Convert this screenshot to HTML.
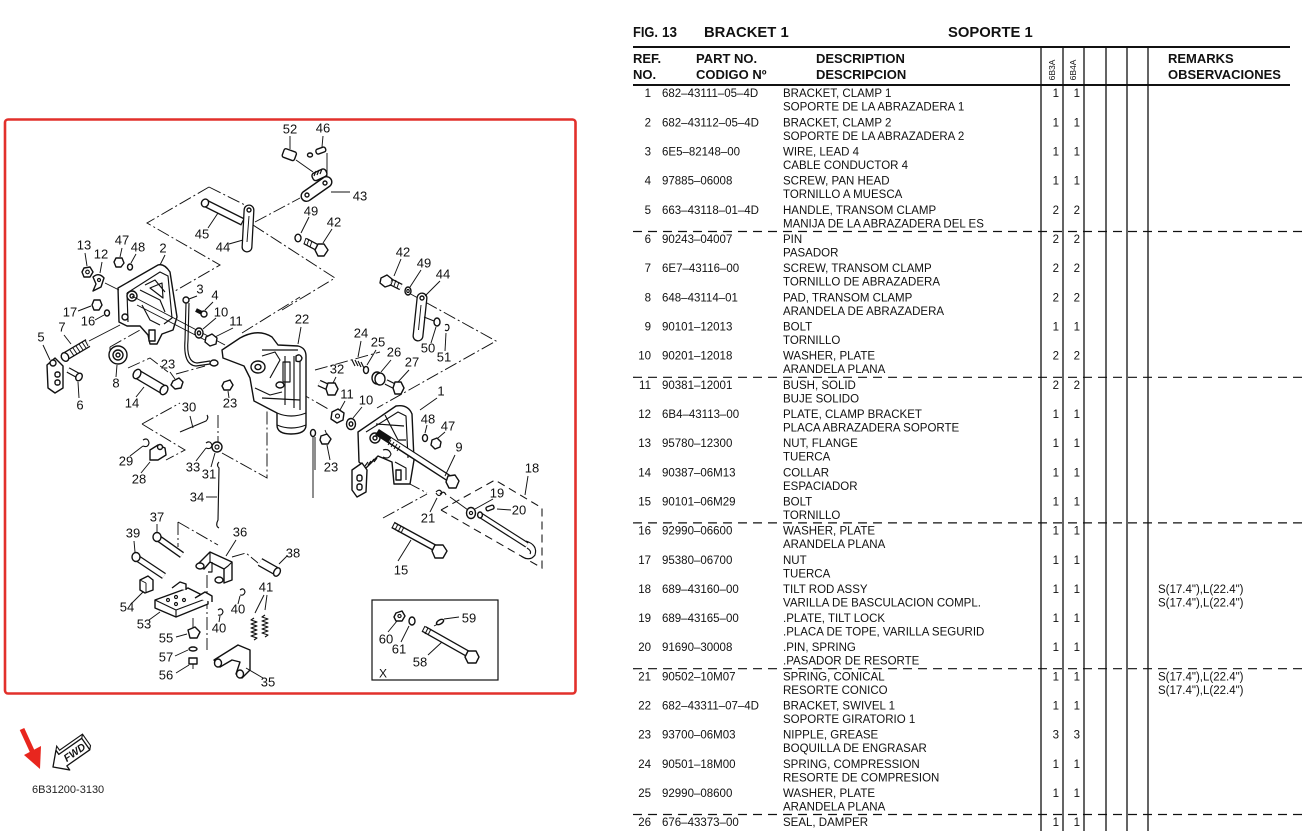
<!DOCTYPE html>
<html><head><meta charset="utf-8">
<style>
html,body{margin:0;padding:0;background:#fff;overflow:hidden;width:1304px;height:831px}
svg{display:block}
.s{fill:#fff;stroke:#111;stroke-width:1.4;stroke-linejoin:round}
.n{fill:none;stroke:#111;stroke-width:1.15;stroke-linejoin:round}
.d{fill:none;stroke:#111;stroke-width:0.95;stroke-dasharray:13 3 2 3}
.dd{fill:none;stroke:#111;stroke-width:1.05;stroke-dasharray:8 5}
.ld{stroke:#111;stroke-width:0.95;fill:none}
.t{font-family:"Liberation Sans",Arial,sans-serif;font-size:13px;fill:#111;text-anchor:middle}
.tb{font-family:"Liberation Sans",Arial,sans-serif;font-size:11.5px;fill:#111;white-space:pre}
.tr{font-family:"Liberation Sans",Arial,sans-serif;font-size:11.5px;fill:#111;text-anchor:end}
.hd{font-family:"Liberation Sans",Arial,sans-serif;font-size:13px;font-weight:bold;fill:#111}
.ti{font-family:"Liberation Sans",Arial,sans-serif;font-size:14.8px;font-weight:bold;fill:#111}
.rot{font-family:"Liberation Sans",Arial,sans-serif;font-size:8.5px;fill:#111;text-anchor:middle}
.k{stroke:#111;fill:none}
.w{stroke:#fff;fill:none}
</style></head>
<body>
<svg width="1304" height="831" viewBox="0 0 1304 831" xmlns="http://www.w3.org/2000/svg">
<rect width="1304" height="831" fill="#fff"/>

<!-- ================= DIAGRAM ================= -->
<rect x="5" y="119.5" width="570.5" height="574" rx="3" fill="none" stroke="#e2302b" stroke-width="2.6"/>

<!-- phantom lines -->
<path class="d" d="M209,187 L147,223 L220,265 L168,295"/>
<path class="d" d="M209,187 L245,205"/>
<path class="d" d="M255,222 L300,198"/>
<path class="d" d="M253,225 L335,278 L282,310"/>
<path class="d" d="M242,333 L300,297"/>
<path class="d" d="M407,292 L496,341 L377,408"/>
<path class="d" d="M315,370 L380,352"/>
<path class="d" d="M110,347 L110,362 M110,347 L140,330"/>
<path class="d" d="M128,368 L150,358 L168,372"/>
<path class="d" d="M383,518 L427,494 M408,483 L427,493"/>
<path class="d" d="M142,424 L180,403 M142,424 L185,450 L166,460"/>
<path class="d" d="M218,415 L218,442 M222,453 L267,478 L267,407"/>
<path class="d" d="M178,522 L218,545 M178,522 L178,547"/>
<path class="d" d="M232,557 L246,553 L258,563"/>
<path class="d" d="M207,575 L207,650"/>
<path class="d" d="M225,350 L330,410"/>
<path class="d" d="M176,374 L205,366"/>

<!-- 52, 46, 43 -->
<rect class="s" x="283" y="150" width="13" height="9" rx="2" transform="rotate(20 289 154)"/>
<line class="ld" x1="290" y1="136" x2="290" y2="149"/>
<ellipse class="s" cx="310" cy="155" rx="2.5" ry="2"/>
<rect class="s" x="316" y="148" width="10" height="5" rx="2" transform="rotate(-20 321 151)"/>
<line class="ld" x1="323" y1="136" x2="322" y2="147"/>
<line class="ld" x1="327" y1="153" x2="327" y2="176"/>
<line class="ld" x1="296" y1="160" x2="313" y2="172"/>
<rect class="s" x="312" y="171" width="15" height="8" rx="3" transform="rotate(-25 319 175)"/>
<path class="n" d="M314,176 l2,-5 M317,175 l2,-5 M320,174 l2,-5"/>
<path class="s" d="M303,192 L323,178 A5,5 0 0 1 330,186 L310,200 A5,5 0 0 1 303,192 Z"/>
<circle class="s" cx="307" cy="195" r="2"/>
<circle class="s" cx="325" cy="183" r="2"/>
<line class="ld" x1="331" y1="192" x2="350" y2="192"/>

<!-- 45 pin -->
<line class="k" x1="205" y1="203" x2="243" y2="222" stroke-width="8"/>
<line class="w" x1="206" y1="203.5" x2="242" y2="221.5" stroke-width="5.4"/>
<ellipse class="s" cx="205" cy="203" rx="3.5" ry="4" transform="rotate(26 205 203)"/>
<line class="ld" x1="208" y1="228" x2="218" y2="213"/>
<!-- 44 left link -->
<line class="k" x1="249" y1="210" x2="247" y2="247" stroke-width="11" stroke-linecap="round"/>
<line class="w" x1="249" y1="210" x2="247" y2="247" stroke-width="8.4" stroke-linecap="round"/>
<line class="ld" x1="249" y1="216" x2="247" y2="242" stroke-width="2"/>
<circle class="s" cx="249" cy="210" r="2"/>
<line class="ld" x1="229" y1="244" x2="243" y2="240"/>
<!-- 49 / 42 upper -->
<ellipse class="s" cx="298" cy="238" rx="3" ry="3.8"/>
<line class="k" x1="305" y1="241" x2="320" y2="249" stroke-width="7"/>
<line class="w" x1="305" y1="241" x2="320" y2="249" stroke-width="4.4"/>
<path class="ld" d="M306,238 l-2,6 M309,239 l-2,6 M312,241 l-2,6"/>
<path class="s" d="M318,244 L324,244 L328,250 L324,256 L318,256 L315,250 Z"/>
<line class="ld" x1="309" y1="217" x2="301" y2="233"/>
<line class="ld" x1="332" y1="229" x2="323" y2="243"/>

<!-- right 42 49 44 50 51 -->
<path class="s" d="M381,278 L387,275 L392,279 L391,285 L385,287 L380,283 Z"/>
<line class="k" x1="391" y1="282" x2="401" y2="287" stroke-width="7"/>
<line class="w" x1="391" y1="282" x2="401" y2="287" stroke-width="4.4"/>
<path class="ld" d="M393,279 l-2,6 M396,280 l-2,6 M399,282 l-2,6"/>
<line class="ld" x1="401" y1="259" x2="394" y2="276"/>
<ellipse class="s" cx="408" cy="291" rx="3" ry="4"/>
<ellipse class="n" cx="408" cy="291" rx="1.2" ry="1.6"/>
<line class="ld" x1="421" y1="270" x2="410" y2="287"/>
<line class="k" x1="422" y1="298" x2="418" y2="336" stroke-width="11" stroke-linecap="round"/>
<line class="w" x1="422" y1="298" x2="418" y2="336" stroke-width="8.4" stroke-linecap="round"/>
<line class="ld" x1="421" y1="305" x2="418.5" y2="330" stroke-width="2.2"/>
<circle class="s" cx="422" cy="298" r="2"/>
<line class="ld" x1="440" y1="281" x2="425" y2="296"/>
<line class="ld" x1="424" y1="317" x2="434" y2="321"/>
<ellipse class="s" cx="437" cy="322" rx="3" ry="4"/>
<line class="ld" x1="431" y1="343" x2="436" y2="327"/>
<path class="n" d="M445,325 q4,-2 4,3 q-1,4 -4,2"/>
<line class="ld" x1="445" y1="351" x2="446" y2="333"/>

<!-- bracket 2 -->
<path class="s" d="M118,288 L158,265 Q164,263 170,272 L177,317 L173,330 L162,334 L157,344 L150,344 L148,335 L140,326 L127,326 L119,322 Z"/>
<path class="n" d="M127,293 L160,272 L168,276 L172,318 L164,324"/>
<path class="n" d="M127,293 L128,322"/>
<circle class="s" cx="132" cy="296" r="5"/>
<circle class="s" cx="132" cy="296" r="2"/>
<circle class="s" cx="125" cy="317" r="3"/>
<path class="n" d="M140,290 L160,300 L165,312 M145,285 L155,280 L165,292 M142,305 L150,320 L160,325 M150,288 L162,283 L163,298 Z"/>
<rect class="s" x="149" y="330" width="6" height="11"/>
<line class="ld" x1="105" y1="283" x2="119" y2="290"/>
<line class="ld" x1="132" y1="296" x2="225" y2="345"/>
<line class="ld" x1="137" y1="305" x2="205" y2="340"/>
<!-- 13 12 47 48 -->
<path class="s" d="M84,268 L90,267 L93,272 L90,277 L84,277 L82,272 Z"/>
<circle class="n" cx="87.5" cy="272" r="1.8"/>
<line class="ld" x1="85" y1="253" x2="87" y2="266"/>
<path class="s" d="M93,277 Q99,272 104,278 L101,287 L93,291 L96,284 Z"/>
<circle class="n" cx="99" cy="280" r="1.5"/>
<line class="ld" x1="102" y1="262" x2="100" y2="273"/>
<path class="s" d="M116,258 L122,258 L124,263 L121,267 L116,267 L114,262 Z"/>
<line class="ld" x1="122" y1="248" x2="120" y2="257"/>
<ellipse class="s" cx="130" cy="267" rx="2.5" ry="3"/>
<line class="ld" x1="136" y1="254" x2="131" y2="263"/>
<line class="ld" x1="165" y1="255" x2="160" y2="265"/>
<!-- 17 16 -->
<path class="s" d="M94,300 L100,300 L102,305 L99,310 L94,310 L92,305 Z"/>
<line class="ld" x1="78" y1="311" x2="91" y2="306"/>
<ellipse class="s" cx="107" cy="313" rx="2.5" ry="3"/>
<line class="ld" x1="95" y1="320" x2="104" y2="315"/>
<!-- 7 screw -->
<line class="k" x1="66" y1="356" x2="88" y2="343" stroke-width="9"/>
<line class="w" x1="66" y1="356" x2="88" y2="343" stroke-width="6.4"/>
<path class="ld" d="M70,350 l4,6 M73,348 l4,6 M76,346 l4,6 M79,344 l4,6 M82,342 l4,6 M85,340 l3,6"/>
<ellipse class="s" cx="65" cy="357" rx="3.5" ry="4.5" transform="rotate(-30 65 357)"/>
<line class="ld" x1="89" y1="341" x2="120" y2="325"/>
<line class="ld" x1="64" y1="335" x2="71" y2="344"/>
<!-- 5 handle -->
<path class="s" d="M47,365 L55,358 L63,366 L63,388 L55,393 L48,388 Z"/>
<rect class="s" x="55" y="372" width="5" height="5" rx="2"/>
<rect class="s" x="55" y="380" width="5" height="5" rx="2"/>
<circle class="s" cx="53" cy="363" r="3"/>
<line class="ld" x1="43" y1="345" x2="50" y2="360"/>
<!-- 6 pin -->
<line class="k" x1="68" y1="370" x2="79" y2="376" stroke-width="6"/>
<line class="w" x1="68" y1="370" x2="79" y2="376" stroke-width="3.6"/>
<ellipse class="s" cx="79" cy="377" rx="3" ry="4" transform="rotate(30 79 377)"/>
<line class="ld" x1="79" y1="398" x2="78" y2="382"/>
<!-- 8 pad -->
<circle class="s" cx="118" cy="355" r="9"/>
<circle class="s" cx="118" cy="355" r="5"/>
<circle class="s" cx="118" cy="355" r="2"/>
<line class="ld" x1="116" y1="377" x2="117" y2="365"/>
<!-- 14 collar -->
<line class="k" x1="137" y1="374" x2="164" y2="390" stroke-width="10"/>
<line class="w" x1="137" y1="374" x2="164" y2="390" stroke-width="7.4"/>
<ellipse class="s" cx="164" cy="390" rx="3.5" ry="5" transform="rotate(30 164 390)"/>
<ellipse class="s" cx="137" cy="374" rx="3.5" ry="5" transform="rotate(30 137 374)"/>
<line class="ld" x1="136" y1="397" x2="144" y2="387"/>
<!-- 3 wire -->
<circle class="s" cx="186" cy="300" r="3"/>
<path class="n" d="M186,303 L185,340 Q183,365 196,366 L210,364"/>
<path class="n" d="M189,303 L188,340 Q186,362 197,363 L210,361"/>
<ellipse class="s" cx="214" cy="363" rx="4" ry="3"/>
<line class="ld" x1="197" y1="296" x2="189" y2="299"/>
<!-- 4 10 11 -->
<line class="k" x1="196" y1="310" x2="202" y2="313" stroke-width="4"/>
<circle class="s" cx="204" cy="314" r="3"/>
<line class="ld" x1="213" y1="302" x2="205" y2="310"/>
<ellipse class="s" cx="199" cy="333" rx="4" ry="5"/>
<ellipse class="s" cx="199" cy="333" rx="1.6" ry="2"/>
<line class="ld" x1="216" y1="318" x2="203" y2="329"/>
<path class="s" d="M206,337 L212,334 L217,338 L216,344 L210,346 L205,342 Z"/>
<line class="ld" x1="233" y1="328" x2="215" y2="337"/>
<!-- 23 nipples -->
<path class="s" d="M173,381 L179,378 L183,382 L181,388 L175,389 L171,385 Z"/>
<line class="ld" x1="170" y1="372" x2="175" y2="379"/>
<path class="s" d="M224,382 L230,380 L233,385 L230,390 L224,390 L222,386 Z"/>
<line class="ld" x1="229" y1="398" x2="228" y2="391"/>

<!-- swivel bracket 22 -->
<path class="s" d="M222,350 L240,338 Q258,328 272,337 L278,345 L298,346 Q306,348 306,356 L306,425 Q306,434 291,434 Q277,434 277,425 L277,413 L254,401 L250,378 L244,366 L223,358 Z"/>
<path class="n" d="M277,413 Q291,419 306,413"/>
<path class="n" d="M277,425 Q291,431 306,425"/>
<path class="n" d="M262,350 L298,350 M285,356 L285,405 M294,356 L294,408 M300,356 L300,410"/>
<rect class="n" x="283" y="362" width="7" height="20"/>
<ellipse class="s" cx="258" cy="367" rx="7" ry="6"/>
<ellipse class="s" cx="258" cy="367" rx="3" ry="2.6"/>
<ellipse class="s" cx="280" cy="385" rx="4" ry="3"/>
<path class="n" d="M255,388 L270,395 L282,392 M262,398 L300,400 M262,356 L275,352 L280,360 L270,378"/>
<path class="s" d="M296,356 q4,-3 6,2 q-1,5 -6,3 Z"/>
<line class="ld" x1="301" y1="327" x2="298" y2="344"/>
<!-- wire from 22 -->
<ellipse class="s" cx="313" cy="433" rx="2.5" ry="3.5"/>
<line class="ld" x1="313" y1="437" x2="313" y2="498"/>
<line class="ld" x1="315" y1="437" x2="315" y2="470"/>
<!-- 24 25 26 27 32 -->
<path class="n" d="M352,360 l3,6 M355,360 l3,6 M358,361 l3,6 M361,362 l3,6"/>
<line class="ld" x1="361" y1="341" x2="358" y2="357"/>
<ellipse class="s" cx="366" cy="370" rx="2.5" ry="3.5"/>
<line class="ld" x1="376" y1="350" x2="367" y2="365"/>
<ellipse class="s" cx="377" cy="378" rx="5" ry="6"/>
<ellipse class="s" cx="380" cy="379" rx="5" ry="6"/>
<line class="ld" x1="391" y1="360" x2="381" y2="372"/>
<line class="k" x1="386" y1="382" x2="396" y2="387" stroke-width="6"/>
<line class="w" x1="386" y1="382" x2="396" y2="387" stroke-width="3.6"/>
<path class="s" d="M395,382 L401,382 L404,388 L401,394 L395,394 L393,388 Z"/>
<line class="ld" x1="409" y1="370" x2="398" y2="382"/>
<line class="k" x1="319" y1="383" x2="330" y2="388" stroke-width="7"/>
<line class="w" x1="319" y1="383" x2="330" y2="388" stroke-width="4.4"/>
<path class="s" d="M328,383 L335,383 L338,389 L335,395 L328,395 L326,389 Z"/>
<line class="ld" x1="336" y1="377" x2="333" y2="383"/>
<!-- 11 10 mid -->
<path class="s" d="M332,412 L338,409 L344,413 L343,420 L337,423 L331,419 Z"/>
<circle class="n" cx="337.5" cy="416" r="2"/>
<line class="ld" x1="345" y1="401" x2="340" y2="410"/>
<ellipse class="s" cx="351" cy="424" rx="4.5" ry="5.5"/>
<ellipse class="s" cx="351" cy="424" rx="1.8" ry="2.2"/>
<line class="ld" x1="362" y1="407" x2="353" y2="418"/>
<!-- 23 right -->
<path class="s" d="M321,436 L327,434 L331,439 L328,444 L322,444 L320,440 Z"/>
<line class="ld" x1="325" y1="430" x2="327" y2="435"/>
<line class="ld" x1="330" y1="460" x2="327" y2="445"/>

<!-- bracket 1 -->
<path class="s" d="M358,432 L396,406 Q408,404 412,414 L414,460 L410,484 L394,484 L392,462 L378,456 L366,468 L359,462 Z"/>
<path class="n" d="M366,432 L398,412 L406,416 L408,458 M376,424 L404,426 M385,415 L398,440 L406,440"/>
<ellipse class="s" cx="375" cy="438" rx="5" ry="5"/>
<circle class="s" cx="375" cy="438" r="2"/>
<path class="n" d="M383,450 q6,-2 8,4 q-2,6 -8,3 M395,462 L406,468 L406,480"/>
<rect class="s" x="396" y="470" width="5" height="10"/>
<line class="ld" x1="437" y1="398" x2="420" y2="410"/>
<path class="s" d="M352,470 L362,463 L367,470 L366,492 L357,497 L352,490 Z"/>
<rect class="s" x="357" y="475" width="5" height="6" rx="2"/>
<rect class="s" x="357" y="484" width="5" height="6" rx="2"/>
<path class="n" d="M365,466 l3,-4 M368,465 l3,-4 M371,463 l3,-4 M374,462 l3,-4"/>
<!-- bolt 9 -->
<line class="k" x1="377" y1="432" x2="450" y2="479" stroke-width="7"/>
<line class="w" x1="390" y1="440" x2="450" y2="479" stroke-width="4.4"/>
<path class="ld" d="M391,440 l-3,5 M394,442 l-3,5 M397,444 l-3,5 M400,446 l-3,5"/>
<path class="s" d="M448,476 L455,475 L459,481 L456,488 L449,488 L446,482 Z"/>
<line class="ld" x1="455" y1="455" x2="445" y2="476"/>
<!-- 48 47 right -->
<ellipse class="s" cx="425" cy="438" rx="2.5" ry="3.5"/>
<line class="ld" x1="427" y1="425" x2="425" y2="433"/>
<path class="s" d="M432,440 L437,438 L441,442 L440,447 L435,449 L431,445 Z"/>
<line class="ld" x1="445" y1="432" x2="438" y2="438"/>

<!-- 21 19 20 18 -->
<path class="n" d="M436,492 q4,-4 6,1 q-3,5 -6,0 M440,494 q4,-4 6,1"/>
<line class="ld" x1="430" y1="512" x2="437" y2="498"/>
<line class="ld" x1="450" y1="497" x2="468" y2="510"/>
<ellipse class="s" cx="471" cy="513" rx="4.5" ry="5.5"/>
<circle class="n" cx="471" cy="513" r="1.6"/>
<line class="ld" x1="493" y1="499" x2="475" y2="509"/>
<rect class="s" x="486" y="506" width="8" height="4" rx="1.5" transform="rotate(-20 490 508)"/>
<line class="ld" x1="511" y1="510" x2="497" y2="509"/>
<path class="dd" d="M441,510 L495,480 L542,508 L542,568 L441,510"/>
<line class="k" x1="480" y1="515" x2="527" y2="545" stroke-width="6"/>
<line class="w" x1="481" y1="515.6" x2="527" y2="545" stroke-width="3.6"/>
<ellipse class="s" cx="480" cy="515" rx="2.4" ry="3"/>
<path class="n" d="M526,541 Q538,545 535,555 Q530,562 521,556 M527,548 Q532,551 530,554"/>
<line class="ld" x1="528" y1="476" x2="525" y2="495"/>
<!-- 15 -->
<line class="k" x1="393" y1="525" x2="437" y2="549" stroke-width="7"/>
<line class="w" x1="393" y1="525" x2="437" y2="549" stroke-width="4.4"/>
<path class="ld" d="M395,522 l-3,6 M398,524 l-3,6 M401,526 l-3,6 M404,527 l-3,6"/>
<path class="s" d="M435,545 L443,545 L447,551 L443,558 L435,558 L432,551 Z"/>
<line class="ld" x1="398" y1="561" x2="411" y2="540"/>

<!-- Box X -->
<rect x="372" y="600" width="126" height="80" fill="none" stroke="#111" stroke-width="1.2"/>
<path class="s" d="M396,613 L402,611 L405,616 L402,621 L396,621 L394,617 Z"/>
<circle class="n" cx="399.5" cy="616" r="1.6"/>
<ellipse class="s" cx="412" cy="621" rx="3" ry="4"/>
<ellipse class="s" cx="440" cy="622" rx="4" ry="2" transform="rotate(-30 440 622)"/>
<line class="ld" x1="444" y1="619" x2="459" y2="617"/>
<line class="ld" x1="434" y1="626" x2="438" y2="624"/>
<line class="k" x1="424" y1="629" x2="470" y2="655" stroke-width="7"/>
<line class="w" x1="424" y1="629" x2="470" y2="655" stroke-width="4.4"/>
<path class="ld" d="M425,626 l-3,6 M428,628 l-3,6 M431,629 l-3,6"/>
<path class="s" d="M468,651 L476,651 L479,657 L476,663 L468,663 L465,657 Z"/>
<line class="ld" x1="388" y1="632" x2="397" y2="621"/>
<line class="ld" x1="401" y1="642" x2="409" y2="626"/>
<line class="ld" x1="428" y1="655" x2="442" y2="642"/>

<!-- lower left group -->
<path class="n" d="M180,432 L206,421 q3,-3 1,-6"/>
<line class="ld" x1="190" y1="416" x2="193" y2="428"/>
<path class="n" d="M143,440 q5,-3 6,3 q-1,5 -6,3"/>
<line class="ld" x1="130" y1="456" x2="143" y2="446"/>
<path class="s" d="M150,450 L158,445 L165,448 L166,455 L158,460 L150,460 Z"/>
<circle class="s" cx="160" cy="447" r="2.5"/>
<line class="ld" x1="141" y1="473" x2="150" y2="462"/>
<path class="n" d="M206,443 q4,-3 6,2 q-1,5 -6,3"/>
<line class="ld" x1="196" y1="461" x2="206" y2="448"/>
<circle class="s" cx="217" cy="447" r="5"/>
<circle class="n" cx="217" cy="447" r="2"/>
<line class="ld" x1="211" y1="467" x2="215" y2="453"/>
<path class="n" d="M219,462 q-3,3 0,6 L218,520 q-3,6 1,8"/>
<line class="ld" x1="206" y1="497" x2="217" y2="497"/>
<!-- 37 39 bolts -->
<line class="k" x1="158" y1="538" x2="182" y2="555" stroke-width="7"/>
<line class="w" x1="158" y1="538" x2="182" y2="555" stroke-width="4.4"/>
<ellipse class="s" cx="157" cy="537" rx="4" ry="4.5"/>
<line class="ld" x1="157" y1="524" x2="157" y2="533"/>
<line class="k" x1="137" y1="558" x2="164" y2="576" stroke-width="7"/>
<line class="w" x1="137" y1="558" x2="164" y2="576" stroke-width="4.4"/>
<ellipse class="s" cx="136" cy="557" rx="4" ry="4.5"/>
<line class="ld" x1="134" y1="541" x2="135" y2="552"/>
<!-- 36 bracket -->
<path class="s" d="M196,566 L210,552 L232,562 L232,580 L224,583 L224,569 L210,562 L204,569 Z"/>
<path class="n" d="M210,552 L210,562 M232,562 L228,566 L224,569"/>
<ellipse class="s" cx="200" cy="566" rx="4" ry="3"/>
<ellipse class="s" cx="219" cy="580" rx="4" ry="3"/>
<path class="n" d="M212,562 L212,572 L208,572"/>
<line class="ld" x1="236" y1="540" x2="226" y2="556"/>
<!-- 38 -->
<line class="k" x1="260" y1="562" x2="276" y2="571" stroke-width="9"/>
<line class="w" x1="260" y1="562" x2="276" y2="571" stroke-width="6.4"/>
<ellipse class="s" cx="277" cy="572" rx="3" ry="4.5" transform="rotate(30 277 572)"/>
<line class="ld" x1="287" y1="556" x2="279" y2="564"/>
<!-- 54 block -->
<path class="s" d="M140,580 L148,576 L153,580 L153,590 L145,593 L140,590 Z"/>
<line class="ld" x1="140" y1="580" x2="146" y2="583"/>
<line class="ld" x1="146" y1="583" x2="146" y2="593"/>
<line class="ld" x1="131" y1="604" x2="143" y2="592"/>
<!-- 53 plate -->
<path class="s" d="M155,600 L188,588 L208,598 L208,604 L176,617 L155,608 Z"/>
<path class="n" d="M155,600 L176,610 L208,598 M176,610 L176,617"/>
<circle class="n" cx="168" cy="600" r="1.5"/><circle class="n" cx="176" cy="597" r="1.5"/><circle class="n" cx="184" cy="600" r="1.5"/><circle class="n" cx="176" cy="604" r="1.5"/>
<path class="s" d="M172,588 L180,582 L186,584 L186,590"/>
<path class="s" d="M195,598 L205,592 L212,596 L212,602"/>
<line class="ld" x1="149" y1="620" x2="160" y2="612"/>
<!-- 40 clips -->
<path class="n" d="M240,590 q4,-3 5,2 q-1,4 -5,3"/>
<line class="ld" x1="238" y1="604" x2="240" y2="596"/>
<path class="n" d="M218,610 q4,-3 5,2 q-1,4 -5,3"/>
<line class="ld" x1="219" y1="622" x2="220" y2="616"/>
<!-- 41 springs -->
<path class="n" d="M254,618 l-3,2 l6,2 l-6,2 l6,2 l-6,2 l6,2 l-6,2 l6,2 l-6,2 l6,2 l-3,2"/>
<path class="n" d="M265,615 l-3,2 l6,2 l-6,2 l6,2 l-6,2 l6,2 l-6,2 l6,2 l-6,2 l6,2 l-3,2"/>
<line class="ld" x1="264" y1="595" x2="255" y2="613"/>
<line class="ld" x1="267" y1="595" x2="265" y2="610"/>
<!-- 55 57 56 -->
<path class="s" d="M188,630 L195,627 L200,632 L197,638 L190,638 Z"/>
<line class="ld" x1="193" y1="628" x2="193" y2="618"/>
<line class="ld" x1="176" y1="637" x2="187" y2="634"/>
<ellipse class="s" cx="193" cy="649" rx="4" ry="2"/>
<line class="ld" x1="175" y1="656" x2="188" y2="650"/>
<path class="s" d="M189,658 L197,658 L197,664 L189,664 Z"/>
<line class="ld" x1="193" y1="664" x2="193" y2="669"/>
<line class="ld" x1="176" y1="673" x2="189" y2="665"/>
<!-- 35 lever -->
<path class="s" d="M214,660 L238,645 L250,650 L250,670 L242,678 L236,674 L240,662 L232,660 L220,667 Z"/>
<ellipse class="s" cx="218" cy="663" rx="3.5" ry="4"/>
<ellipse class="s" cx="240" cy="674" rx="3.5" ry="4"/>
<line class="ld" x1="263" y1="678" x2="246" y2="668"/>

<!-- labels -->
<g class="t">
<text x="290" y="133.6">52</text><text x="323" y="132.6">46</text><text x="360" y="200.6">43</text>
<text x="311" y="215.6">49</text><text x="334" y="226.6">42</text><text x="202" y="238.6">45</text>
<text x="223" y="251.6">44</text><text x="84" y="249.6">13</text><text x="101" y="258.6">12</text>
<text x="122" y="244.6">47</text><text x="138" y="251.6">48</text><text x="163" y="252.6">2</text>
<text x="200" y="293.6">3</text><text x="215" y="299.6">4</text><text x="221" y="316.6">10</text>
<text x="236" y="325.6">11</text><text x="70" y="316.6">17</text><text x="88" y="325.6">16</text>
<text x="62" y="331.6">7</text><text x="41" y="341.6">5</text><text x="116" y="387.6">8</text>
<text x="168" y="368.6">23</text><text x="80" y="409.6">6</text><text x="132" y="407.6">14</text>
<text x="189" y="411.6">30</text><text x="230" y="407.6">23</text><text x="302" y="323.6">22</text>
<text x="361" y="337.6">24</text><text x="378" y="346.6">25</text><text x="394" y="356.6">26</text>
<text x="412" y="366.6">27</text><text x="337" y="373.6">32</text><text x="347" y="398.6">11</text>
<text x="366" y="404.6">10</text><text x="441" y="395.6">1</text><text x="403" y="256.6">42</text>
<text x="424" y="267.6">49</text><text x="443" y="278.6">44</text><text x="428" y="352.6">50</text>
<text x="444" y="361.6">51</text><text x="126" y="465.6">29</text><text x="139" y="483.6">28</text>
<text x="193" y="471.6">33</text><text x="209" y="478.6">31</text><text x="197" y="501.6">34</text>
<text x="157" y="521.6">37</text><text x="133" y="537.6">39</text><text x="240" y="536.6">36</text>
<text x="293" y="557.6">38</text><text x="266" y="591.6">41</text><text x="127" y="611.6">54</text>
<text x="238" y="613.6">40</text><text x="219" y="632.6">40</text><text x="144" y="628.6">53</text>
<text x="166" y="642.6">55</text><text x="166" y="661.6">57</text><text x="166" y="679.6">56</text>
<text x="268" y="686.6">35</text><text x="428" y="423.6">48</text><text x="448" y="430.6">47</text>
<text x="459" y="451.6">9</text><text x="331" y="471.6">23</text><text x="532" y="472.6">18</text>
<text x="497" y="497.6">19</text><text x="519" y="514.6">20</text><text x="428" y="522.6">21</text>
<text x="401" y="574.6">15</text><text x="469" y="622.6">59</text><text x="386" y="643.6">60</text>
<text x="399" y="653.6">61</text><text x="420" y="666.6">58</text><text x="383" y="677.6" font-size="12">X</text>
</g>

<!-- FWD + red arrow -->
<line x1="22" y1="729" x2="33" y2="753" stroke="#e8261e" stroke-width="5"/>
<polygon points="24,755 41,746 40,769" fill="#e8261e"/>
<g transform="translate(53,767) rotate(-35)">
<path d="M0,0 L12,-12 L12,-7 L40,-7 L40,7 L12,7 L12,12 Z" fill="#fff" stroke="#111" stroke-width="1.3" stroke-linejoin="round"/>
<path d="M12,-12 L15,-15 L15,-10 L43,-10 L43,4 L40,7 M40,-7 L43,-10" fill="none" stroke="#111" stroke-width="1.1"/>
<text x="26" y="4" font-family="Liberation Sans,Arial,sans-serif" font-size="10.5" font-weight="bold" font-style="italic" text-anchor="middle" fill="#111">FWD</text>
</g>
<text x="32" y="793" font-family="Liberation Sans,Arial,sans-serif" font-size="11" fill="#222">6B31200-3130</text>

<!-- ================= TABLE ================= -->
<text class="ti" x="633" y="37" textLength="25" lengthAdjust="spacingAndGlyphs">FIG.</text>
<text class="ti" x="662" y="37" textLength="15" lengthAdjust="spacingAndGlyphs">13</text>
<text class="ti" x="704" y="37">BRACKET 1</text>
<text class="ti" x="948" y="37">SOPORTE 1</text>

<line x1="633" y1="47" x2="1290" y2="47" stroke="#111" stroke-width="2"/>
<line x1="633" y1="85" x2="1290" y2="85" stroke="#111" stroke-width="2"/>
<g stroke="#111" stroke-width="1.3">
<line x1="1041" y1="47" x2="1041" y2="831"/><line x1="1063" y1="47" x2="1063" y2="831"/>
<line x1="1084" y1="47" x2="1084" y2="831"/><line x1="1106" y1="47" x2="1106" y2="831"/>
<line x1="1127" y1="47" x2="1127" y2="831"/><line x1="1148" y1="47" x2="1148" y2="831"/>
</g>
<g stroke="#111" stroke-width="1.2" stroke-dasharray="9 6">
<line x1="633" y1="231.5" x2="1304" y2="231.5"/><line x1="633" y1="377.3" x2="1304" y2="377.3"/>
<line x1="633" y1="522.9" x2="1304" y2="522.9"/><line x1="633" y1="668.7" x2="1304" y2="668.7"/>
<line x1="633" y1="814.5" x2="1304" y2="814.5"/>
</g>

<text class="hd" x="633" y="63">REF.</text><text class="hd" x="633" y="79">NO.</text>
<text class="hd" x="696" y="63">PART NO.</text><text class="hd" x="696" y="79">CODIGO Nº</text>
<text class="hd" x="816" y="63">DESCRIPTION</text><text class="hd" x="816" y="79">DESCRIPCION</text>
<text class="hd" x="1168" y="63">REMARKS</text><text class="hd" x="1168" y="79">OBSERVACIONES</text>
<text class="rot" transform="translate(1055,70) rotate(-90)">6B3A</text>
<text class="rot" transform="translate(1076,70) rotate(-90)">6B4A</text>

<!-- rows -->
<g class="tr">
<text x="651" y="97.2">1</text><text x="651" y="126.4">2</text><text x="651" y="155.5">3</text><text x="651" y="184.7">4</text><text x="651" y="213.8">5</text>
<text x="651" y="243.0">6</text><text x="651" y="272.2">7</text><text x="651" y="301.3">8</text><text x="651" y="330.5">9</text><text x="651" y="359.6">10</text>
<text x="651" y="388.8">11</text><text x="651" y="417.9">12</text><text x="651" y="447.1">13</text><text x="651" y="476.3">14</text><text x="651" y="505.4">15</text>
<text x="651" y="534.6">16</text><text x="651" y="563.8">17</text><text x="651" y="592.9">18</text><text x="651" y="622.1">19</text><text x="651" y="651.2">20</text>
<text x="651" y="680.4">21</text><text x="651" y="709.6">22</text><text x="651" y="738.7">23</text><text x="651" y="767.9">24</text><text x="651" y="797.0">25</text>
<text x="651" y="826.2">26</text>
</g>
<g class="tb">
<text x="662" y="97.2">682–43111–05–4D</text>
<text x="662" y="126.4">682–43112–05–4D</text>
<text x="662" y="155.5">6E5–82148–00</text>
<text x="662" y="184.7">97885–06008</text>
<text x="662" y="213.8">663–43118–01–4D</text>
<text x="662" y="243.0">90243–04007</text>
<text x="662" y="272.2">6E7–43116–00</text>
<text x="662" y="301.3">648–43114–01</text>
<text x="662" y="330.5">90101–12013</text>
<text x="662" y="359.6">90201–12018</text>
<text x="662" y="388.8">90381–12001</text>
<text x="662" y="417.9">6B4–43113–00</text>
<text x="662" y="447.1">95780–12300</text>
<text x="662" y="476.3">90387–06M13</text>
<text x="662" y="505.4">90101–06M29</text>
<text x="662" y="534.6">92990–06600</text>
<text x="662" y="563.8">95380–06700</text>
<text x="662" y="592.9">689–43160–00</text>
<text x="662" y="622.1">689–43165–00</text>
<text x="662" y="651.2">91690–30008</text>
<text x="662" y="680.4">90502–10M07</text>
<text x="662" y="709.6">682–43311–07–4D</text>
<text x="662" y="738.7">93700–06M03</text>
<text x="662" y="767.9">90501–18M00</text>
<text x="662" y="797.0">92990–08600</text>
<text x="662" y="826.2">676–43373–00</text>

<text x="783" y="97.2">BRACKET, CLAMP 1</text><text x="783" y="110.7">SOPORTE DE LA ABRAZADERA 1</text>
<text x="783" y="126.4">BRACKET, CLAMP 2</text><text x="783" y="139.9">SOPORTE DE LA ABRAZADERA 2</text>
<text x="783" y="155.5">WIRE, LEAD 4</text><text x="783" y="169.0">CABLE  CONDUCTOR 4</text>
<text x="783" y="184.7">SCREW, PAN HEAD</text><text x="783" y="198.2">TORNILLO A MUESCA</text>
<text x="783" y="213.8">HANDLE, TRANSOM CLAMP</text><text x="783" y="227.3">MANIJA DE LA ABRAZADERA DEL ES</text>
<text x="783" y="243.0">PIN</text><text x="783" y="256.5">PASADOR</text>
<text x="783" y="272.2">SCREW, TRANSOM CLAMP</text><text x="783" y="285.7">TORNILLO DE ABRAZADERA</text>
<text x="783" y="301.3">PAD, TRANSOM CLAMP</text><text x="783" y="314.8">ARANDELA DE ABRAZADERA</text>
<text x="783" y="330.5">BOLT</text><text x="783" y="344.0">TORNILLO</text>
<text x="783" y="359.6">WASHER, PLATE</text><text x="783" y="373.1">ARANDELA PLANA</text>
<text x="783" y="388.8">BUSH, SOLID</text><text x="783" y="402.3">BUJE  SOLIDO</text>
<text x="783" y="417.9">PLATE, CLAMP BRACKET</text><text x="783" y="431.4">PLACA ABRAZADERA SOPORTE</text>
<text x="783" y="447.1">NUT, FLANGE</text><text x="783" y="460.6">TUERCA</text>
<text x="783" y="476.3">COLLAR</text><text x="783" y="489.8">ESPACIADOR</text>
<text x="783" y="505.4">BOLT</text><text x="783" y="518.9">TORNILLO</text>
<text x="783" y="534.6">WASHER, PLATE</text><text x="783" y="548.1">ARANDELA PLANA</text>
<text x="783" y="563.8">NUT</text><text x="783" y="577.3">TUERCA</text>
<text x="783" y="592.9">TILT ROD ASSY</text><text x="783" y="606.4">VARILLA DE BASCULACION COMPL.</text>
<text x="783" y="622.1">.PLATE, TILT LOCK</text><text x="783" y="635.6">.PLACA DE TOPE, VARILLA SEGURID</text>
<text x="783" y="651.2">.PIN, SPRING</text><text x="783" y="664.7">.PASADOR DE RESORTE</text>
<text x="783" y="680.4">SPRING, CONICAL</text><text x="783" y="693.9">RESORTE  CONICO</text>
<text x="783" y="709.6">BRACKET, SWIVEL 1</text><text x="783" y="723.1">SOPORTE GIRATORIO 1</text>
<text x="783" y="738.7">NIPPLE, GREASE</text><text x="783" y="752.2">BOQUILLA DE ENGRASAR</text>
<text x="783" y="767.9">SPRING, COMPRESSION</text><text x="783" y="781.4">RESORTE  DE COMPRESION</text>
<text x="783" y="797.0">WASHER, PLATE</text><text x="783" y="810.5">ARANDELA PLANA</text>
<text x="783" y="826.2">SEAL, DAMPER</text><text x="783" y="839.7">SELLO DE GOMA</text>

<text x="1158" y="592.9">S(17.4"),L(22.4")</text><text x="1158" y="606.4">S(17.4"),L(22.4")</text>
<text x="1158" y="680.4">S(17.4"),L(22.4")</text><text x="1158" y="693.9">S(17.4"),L(22.4")</text>
</g>
<g class="tr">
<text x="1059" y="97.2">1</text><text x="1080" y="97.2">1</text>
<text x="1059" y="126.4">1</text><text x="1080" y="126.4">1</text>
<text x="1059" y="155.5">1</text><text x="1080" y="155.5">1</text>
<text x="1059" y="184.7">1</text><text x="1080" y="184.7">1</text>
<text x="1059" y="213.8">2</text><text x="1080" y="213.8">2</text>
<text x="1059" y="243.0">2</text><text x="1080" y="243.0">2</text>
<text x="1059" y="272.2">2</text><text x="1080" y="272.2">2</text>
<text x="1059" y="301.3">2</text><text x="1080" y="301.3">2</text>
<text x="1059" y="330.5">1</text><text x="1080" y="330.5">1</text>
<text x="1059" y="359.6">2</text><text x="1080" y="359.6">2</text>
<text x="1059" y="388.8">2</text><text x="1080" y="388.8">2</text>
<text x="1059" y="417.9">1</text><text x="1080" y="417.9">1</text>
<text x="1059" y="447.1">1</text><text x="1080" y="447.1">1</text>
<text x="1059" y="476.3">1</text><text x="1080" y="476.3">1</text>
<text x="1059" y="505.4">1</text><text x="1080" y="505.4">1</text>
<text x="1059" y="534.6">1</text><text x="1080" y="534.6">1</text>
<text x="1059" y="563.8">1</text><text x="1080" y="563.8">1</text>
<text x="1059" y="592.9">1</text><text x="1080" y="592.9">1</text>
<text x="1059" y="622.1">1</text><text x="1080" y="622.1">1</text>
<text x="1059" y="651.2">1</text><text x="1080" y="651.2">1</text>
<text x="1059" y="680.4">1</text><text x="1080" y="680.4">1</text>
<text x="1059" y="709.6">1</text><text x="1080" y="709.6">1</text>
<text x="1059" y="738.7">3</text><text x="1080" y="738.7">3</text>
<text x="1059" y="767.9">1</text><text x="1080" y="767.9">1</text>
<text x="1059" y="797.0">1</text><text x="1080" y="797.0">1</text>
<text x="1059" y="826.2">1</text><text x="1080" y="826.2">1</text>
</g>
</svg>
</body></html>
